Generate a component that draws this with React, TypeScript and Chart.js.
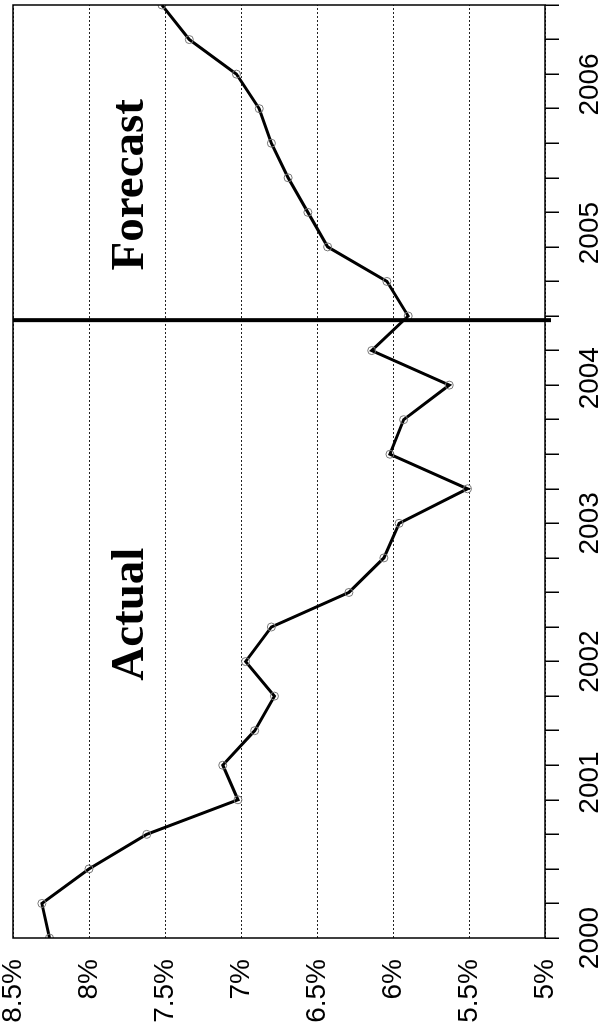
import React, { useEffect, useRef } from 'react';
import { Chart, registerables } from 'chart.js';

Chart.register(...registerables);

// Quarterly categories, 2000 Q1 .. 2006 Q4
const quarters: string[] = [
  '2000 Q1', '2000 Q2', '2000 Q3', '2000 Q4',
  '2001 Q1', '2001 Q2', '2001 Q3', '2001 Q4',
  '2002 Q1', '2002 Q2', '2002 Q3', '2002 Q4',
  '2003 Q1', '2003 Q2', '2003 Q3', '2003 Q4',
  '2004 Q1', '2004 Q2', '2004 Q3', '2004 Q4',
  '2005 Q1', '2005 Q2', '2005 Q3', '2005 Q4',
  '2006 Q1', '2006 Q2', '2006 Q3', '2006 Q4',
];

// Year tick labels and where they sit along the quarter axis
const yearTicks: string[] = ['2000', '2001', '2002', '2003', '2004', '2005', '2006'];
const yearTickPositions: number[] = [0, 4.5, 8, 12, 16.2, 20.4, 24.7];

// Rate in percent (actual through mid-2004, forecast afterwards)
const rateValues: number[] = [
  8.26, 8.31, 8.0, 7.62, 7.02, 7.12, 6.91, 6.78, 6.97, 6.8,
  6.29, 6.06, 5.96, 5.51, 6.02, 5.93, 5.63, 6.14, 5.9, 6.04,
  6.43, 6.56, 6.69, 6.8, 6.88, 7.03, 7.34, 7.52,
];

// Percent axis range
const percentMin = 5;
const percentMax = 8.5;
const percentStep = 0.5;

// Where the forecast begins (quarter index position)
const forecastStart = 17.88;

// Section labels
const sectionLabels: string[] = ['Actual', 'Forecast'];
const sectionLabelIndex: number[] = [9.37, 21.8];
const sectionLabelValue = 7.645;

const W = 1036;
const H = 601;
const NQ = quarters.length;

const overlayPlugin = {
  id: 'overlay',
  afterDatasetsDraw(chart: any) {
    const { ctx, chartArea } = chart;
    const xs = chart.scales.x;
    const ys = chart.scales.y;
    ctx.save();
    // frame
    ctx.strokeStyle = '#000';
    ctx.lineWidth = 1.5;
    ctx.strokeRect(chartArea.left, chartArea.top, chartArea.right - chartArea.left, chartArea.bottom - chartArea.top);
    // divider between actual and forecast
    const dx = xs.getPixelForValue(forecastStart);
    ctx.lineWidth = 4;
    ctx.beginPath();
    ctx.moveTo(dx, chartArea.top);
    ctx.lineTo(dx, chartArea.bottom + 6);
    ctx.stroke();
    // section labels
    ctx.fillStyle = '#000';
    ctx.font = 'bold 47px "Liberation Serif", "Times New Roman", serif';
    ctx.textAlign = 'center';
    ctx.textBaseline = 'alphabetic';
    sectionLabels.forEach((t, i) => {
      ctx.fillText(t, xs.getPixelForValue(sectionLabelIndex[i]), ys.getPixelForValue(sectionLabelValue));
    });
    ctx.restore();
  },
};

export default function App() {
  const ref = useRef<HTMLCanvasElement | null>(null);

  useEffect(() => {
    if (!ref.current) return;
    const chart = new Chart(ref.current, {
      type: 'line',
      data: {
        labels: quarters,
        datasets: [
          {
            data: rateValues.map((y, i) => ({ x: i, y })),
            borderColor: '#000',
            borderWidth: 3,
            tension: 0,
            pointStyle: 'circle',
            pointRadius: 4,
            pointBorderWidth: 1,
            pointBorderColor: '#777',
            pointBackgroundColor: 'rgba(255,255,255,0)',
          },
        ],
      },
      options: {
        responsive: false,
        animation: false,
        devicePixelRatio: 1,
        layout: { padding: { top: 13, left: 12, right: 2, bottom: 0 } },
        plugins: { legend: { display: false }, tooltip: { enabled: false } },
        scales: {
          x: {
            type: 'linear',
            min: 0,
            max: NQ - 1,
            border: { display: false },
            grid: {
              drawOnChartArea: false,
              drawTicks: true,
              tickLength: 14,
              lineWidth: 1.5,
              color: '#000',
              tickWidth: 1.5,
              tickColor: (c: any) => (c.index >= NQ ? 'rgba(0,0,0,0)' : '#000'),
            },
            afterBuildTicks: (s: any) => {
              s.ticks = [
                ...quarters.map((_q, i) => ({ value: i })),
                ...yearTickPositions.map((v) => ({ value: v })),
              ];
            },
            ticks: {
              autoSkip: false,
              minRotation: 0,
              maxRotation: 0,
              padding: 14,
              color: '#000',
              font: { family: '"Liberation Sans", Arial, sans-serif', size: 28, lineHeight: 1.2 },
              callback: (_v: any, i: number) => (i >= NQ ? yearTicks[i - NQ] : ''),
            },
            afterFit: (s: any) => {
              s.height = 56;
              s.paddingLeft = 0;
              s.paddingRight = 0;
            },
          },
          y: {
            min: percentMin,
            max: percentMax,
            border: { display: false, dash: [2, 2] },
            grid: {
              drawTicks: false,
              color: '#222',
              lineWidth: 1,
            },
            ticks: {
              stepSize: percentStep,
              padding: 21,
              color: '#000',
              font: { family: '"Liberation Sans", Arial, sans-serif', size: 28, lineHeight: 0.9 },
              callback: (v: any) => `${v}%`,
            },
            afterFit: (s: any) => {
              s.width = 86;
              s.paddingTop = 0;
              s.paddingBottom = 0;
            },
          },
        },
      },
      plugins: [overlayPlugin],
    } as any);
    return () => chart.destroy();
  }, []);

  return (
    <div
      style={{
        position: 'fixed',
        left: 0,
        top: 0,
        width: 601,
        height: 1036,
        overflow: 'hidden',
        background: '#fff',
      }}
    >
      <canvas
        ref={ref}
        width={W}
        height={H}
        style={{
          position: 'absolute',
          left: 0,
          top: 0,
          width: W,
          height: H,
          transformOrigin: '0 0',
          transform: `translateY(${W}px) rotate(-90deg)`,
        }}
      />
    </div>
  );
}
